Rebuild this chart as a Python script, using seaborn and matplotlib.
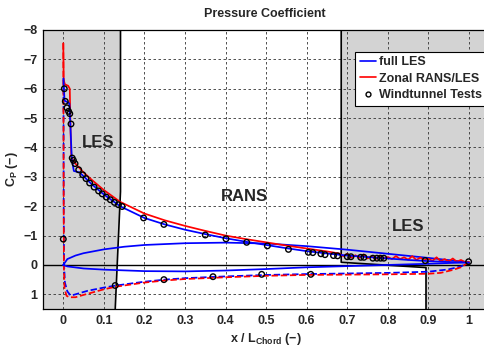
import matplotlib
matplotlib.use('Agg')
import matplotlib.pyplot as plt
from matplotlib.lines import Line2D
import seaborn as sns
import numpy as np
import pandas as pd

# full LES, suction side
les_up_x = [0.0005, 0.003, 0.015, 0.018, 0.021, 0.026, 0.04, 0.05, 0.07, 0.1, 0.14, 0.2, 0.25, 0.3,
            0.35, 0.4, 0.45, 0.5, 0.55, 0.6, 0.65, 0.7, 0.75, 0.8, 0.85, 0.9, 0.95, 1.0]
les_up_cp = [-6.35, -5.6, -5.5, -4.6, -3.6, -3.2, -3.15, -3.02, -2.75, -2.4, -2.0, -1.6, -1.38, -1.2,
             -1.05, -0.91, -0.79, -0.68, -0.57, -0.47, -0.39, -0.32, -0.27, -0.22, -0.17, -0.13, -0.1, -0.08]
# full LES, pressure side
les_lo_x = [0.0005, 0.001, 0.002, 0.004, 0.01, 0.018, 0.025, 0.04, 0.06, 0.1, 0.13, 0.2, 0.25, 0.3,
            0.4, 0.5, 0.6, 0.7, 0.8, 0.9, 0.95, 0.98, 1.0]
les_lo_cp = [-6.35, -2.0, 0.0, 0.6, 0.9, 1.04, 1.02, 0.96, 0.88, 0.77, 0.7, 0.57, 0.5, 0.45,
             0.39, 0.34, 0.31, 0.29, 0.27, 0.23, 0.15, 0.05, -0.08]
# full LES, closed curve around chord
loop_x = [0.0, 0.01, 0.03, 0.05, 0.1, 0.15, 0.2, 0.3, 0.4, 0.5, 0.6, 0.7, 0.8, 0.9, 1.0,
          0.9, 0.8, 0.7, 0.6, 0.5, 0.4, 0.3, 0.2, 0.1, 0.05, 0.01, 0.0]
loop_cp = [0.0, -0.2, -0.32, -0.4, -0.53, -0.62, -0.68, -0.74, -0.76, -0.73, -0.64, -0.52, -0.38, -0.24, -0.09,
           -0.04, 0.0, 0.04, 0.08, 0.14, 0.19, 0.22, 0.21, 0.16, 0.12, 0.05, 0.0]

# zonal RANS/LES, suction side
zon_up_x = [0.0, 0.001, 0.004, 0.012, 0.016, 0.018, 0.02, 0.025, 0.03, 0.04, 0.05, 0.07, 0.1, 0.14,
            0.2, 0.25, 0.3, 0.35, 0.4, 0.45, 0.5, 0.55, 0.6, 0.65, 0.68,
            0.69, 0.70, 0.71, 0.72, 0.73, 0.74, 0.75, 0.76, 0.77, 0.78, 0.79, 0.80, 0.81, 0.82, 0.83,
            0.84, 0.85, 0.86, 0.87, 0.88, 0.89, 0.90, 0.91, 0.92, 0.93, 0.94, 0.95, 0.96, 0.97, 0.98,
            0.99, 1.0]
zon_up_cp = [-7.55, -6.3, -6.15, -6.1, -6.0, -4.5, -3.65, -3.55, -3.45, -3.3, -3.15, -2.9, -2.55, -2.15,
             -1.75, -1.52, -1.33, -1.16, -1.0, -0.88, -0.77, -0.66, -0.56, -0.46, -0.39,
             -0.3, -0.38, -0.25, -0.33, -0.24, -0.36, -0.22, -0.3, -0.2, -0.32, -0.22, -0.27, -0.2, -0.3, -0.2,
             -0.26, -0.18, -0.3, -0.17, -0.25, -0.16, -0.21, -0.14, -0.26, -0.13, -0.2, -0.12, -0.22, -0.11, -0.17,
             -0.1, -0.1]
# zonal RANS/LES, pressure side
zon_lo_x = [0.0, 0.0008, 0.0015, 0.003, 0.008, 0.015, 0.03, 0.05, 0.1, 0.13, 0.2, 0.25, 0.3,
            0.4, 0.5, 0.6, 0.7, 0.8, 0.9, 0.93, 0.96, 0.98, 1.0]
zon_lo_cp = [-7.55, -3.0, 0.0, 0.8, 1.05, 1.1, 1.1, 1.02, 0.83, 0.74, 0.6, 0.53, 0.48,
             0.42, 0.37, 0.34, 0.33, 0.32, 0.3, 0.27, 0.17, 0.08, -0.1]

# windtunnel measurements
exp_x = [0.0025, 0.005, 0.009, 0.013, 0.016, 0.019, 0.022, 0.025, 0.029, 0.038, 0.048, 0.056, 0.065,
         0.076, 0.087, 0.096, 0.106, 0.116, 0.126, 0.136, 0.145, 0.198, 0.248, 0.35, 0.401, 0.452,
         0.503, 0.555, 0.604, 0.615, 0.635, 0.645, 0.666, 0.676, 0.70, 0.709, 0.733, 0.741, 0.763,
         0.773, 0.782, 0.79, 0.892, 0.999,
         0.0, 0.128, 0.248, 0.369, 0.489, 0.61]
exp_cp = [-6.0, -5.57, -5.35, -5.23, -5.15, -4.8, -3.64, -3.56, -3.45, -3.24, -3.07, -2.94, -2.79,
          -2.65, -2.52, -2.42, -2.31, -2.22, -2.13, -2.05, -1.99, -1.6, -1.38, -1.02, -0.89, -0.77,
          -0.65, -0.53, -0.43, -0.42, -0.38, -0.35, -0.32, -0.31, -0.28, -0.28, -0.26, -0.26, -0.23,
          -0.23, -0.23, -0.23, -0.15, -0.11,
          -0.88, 0.7, 0.5, 0.4, 0.32, 0.32]

# zone boundaries (RANS region in the middle)
zone_left_x = [0.141, 0.141, 0.128]
zone_left_cp = [-8.0, -2.5, 1.5]
zone_right_x = [0.685, 0.685, 0.894, 0.894]
zone_right_cp = [-8.0, -0.09, 0.09, 1.5]

xticks = [0, 0.1, 0.2, 0.3, 0.4, 0.5, 0.6, 0.7, 0.8, 0.9, 1.0]
xtick_labels = ['0', '0.1', '0.2', '0.3', '0.4', '0.5', '0.6', '0.7', '0.8', '0.9', '1']
yticks = [-8, -7, -6, -5, -4, -3, -2, -1, 0, 1]

sns.set_style("white")
plt.rcParams['font.family'] = ['Liberation Sans', 'DejaVu Sans']
plt.rcParams['font.weight'] = 'bold'
plt.rcParams['mathtext.fontset'] = 'custom'
plt.rcParams['mathtext.rm'] = 'Liberation Sans:bold'
plt.rcParams['mathtext.bf'] = 'Liberation Sans:bold'
plt.rcParams['mathtext.it'] = 'Liberation Sans:bold'

XMIN, XMAX = -0.05, 1.05
YMIN, YMAX = 1.5, -8.0

fig = plt.figure(figsize=(4.84, 3.48), dpi=100)
ax = fig.add_axes([43 / 484, 1 - 309 / 348, (489.3 - 43) / 484, (309 - 30) / 348])

# grey LES zones
gray = '#d3d3d3'
ax.fill(np.r_[XMIN, zone_left_x, XMIN], np.r_[-8.0, zone_left_cp, 1.5], color=gray, lw=0, zorder=1)
ax.fill(np.r_[zone_right_x, XMAX + 0.1, XMAX + 0.1], np.r_[zone_right_cp, 1.5, -8.0], color=gray, lw=0, zorder=1)
ax.plot(zone_left_x, zone_left_cp, color='k', lw=1.2, zorder=1.7)
ax.plot(zone_right_x, zone_right_cp, color='k', lw=1.2, zorder=1.7)
ax.axhline(0, color='k', lw=1.0, zorder=1.7)

blue, red = '#0000ff', '#ff0000'
lines = [
    (les_lo_x, les_lo_cp, blue, '--'),
    (zon_lo_x, zon_lo_cp, red, '--'),
    (loop_x, loop_cp, blue, '-'),
    (zon_up_x, zon_up_cp, red, '-'),
    (les_up_x, les_up_cp, blue, '-'),
]
for xs, ys, c, ls in lines:
    df = pd.DataFrame({'x': xs, 'cp': ys})
    sns.lineplot(data=df, x='x', y='cp', sort=False, estimator=None, color=c, lw=1.25,
                 linestyle=ls, ax=ax, zorder=2)

exp = pd.DataFrame({'x': exp_x, 'cp': exp_cp})
sns.scatterplot(data=exp, x='x', y='cp', marker='o', s=16, facecolor='none', edgecolor='k',
                linewidth=1.0, ax=ax, zorder=3)

ax.set_xlim(XMIN, XMAX)
ax.set_ylim(YMIN, YMAX)
ax.set_xticks(xticks)
ax.set_xticklabels(xtick_labels)
ax.set_yticks(yticks)
ax.tick_params(direction='in', length=3.5, width=0.8, labelsize=9, pad=4, color='k')
for lab in ax.get_xticklabels() + ax.get_yticklabels():
    lab.set_fontweight('bold')

ax.set_axisbelow('line')
ax.grid(True, linestyle=(0, (3, 3)), color='0.2', lw=0.6, zorder=1.5)
for s in ax.spines.values():
    s.set_color('k')
    s.set_linewidth(0.9)

ax.set_xlabel(r'x / $\mathbf{L_{Chord}}$ (−)', fontsize=9, fontweight='bold', labelpad=3)
ax.set_ylabel(r'$\mathbf{C_P}$ (−)', fontsize=9, fontweight='bold', labelpad=2)
fig.text(264.7 / 484, 1 - 14 / 348, 'Pressure Coefficient', fontsize=9, fontweight='bold',
         ha='center', va='center')

ax.text(0.086, -4.16, 'LES', fontsize=12, fontweight='bold', ha='center', va='center')
ax.text(0.446, -2.32, 'RANS', fontsize=12, fontweight='bold', ha='center', va='center')
ax.text(0.85, -1.3, 'LES', fontsize=12, fontweight='bold', ha='center', va='center')

handles = [Line2D([], [], color=blue, lw=1.2),
           Line2D([], [], color=red, lw=1.2),
           Line2D([], [], color='k', marker='o', ls='none', markersize=3.5,
                  markerfacecolor='none', markeredgewidth=1.0)]
leg = ax.legend(handles, ['full LES', 'Zonal RANS/LES', 'Windtunnel Tests'],
                loc='upper left', bbox_to_anchor=(0.70, 0.921), fancybox=False, framealpha=1,
                edgecolor='k', handlelength=1.3, handletextpad=0.2, borderpad=0.35,
                labelspacing=0.35, borderaxespad=0, prop={'weight': 'bold', 'size': 9})
leg.get_frame().set_linewidth(0.8)

fig.savefig('out.png', dpi=100)
